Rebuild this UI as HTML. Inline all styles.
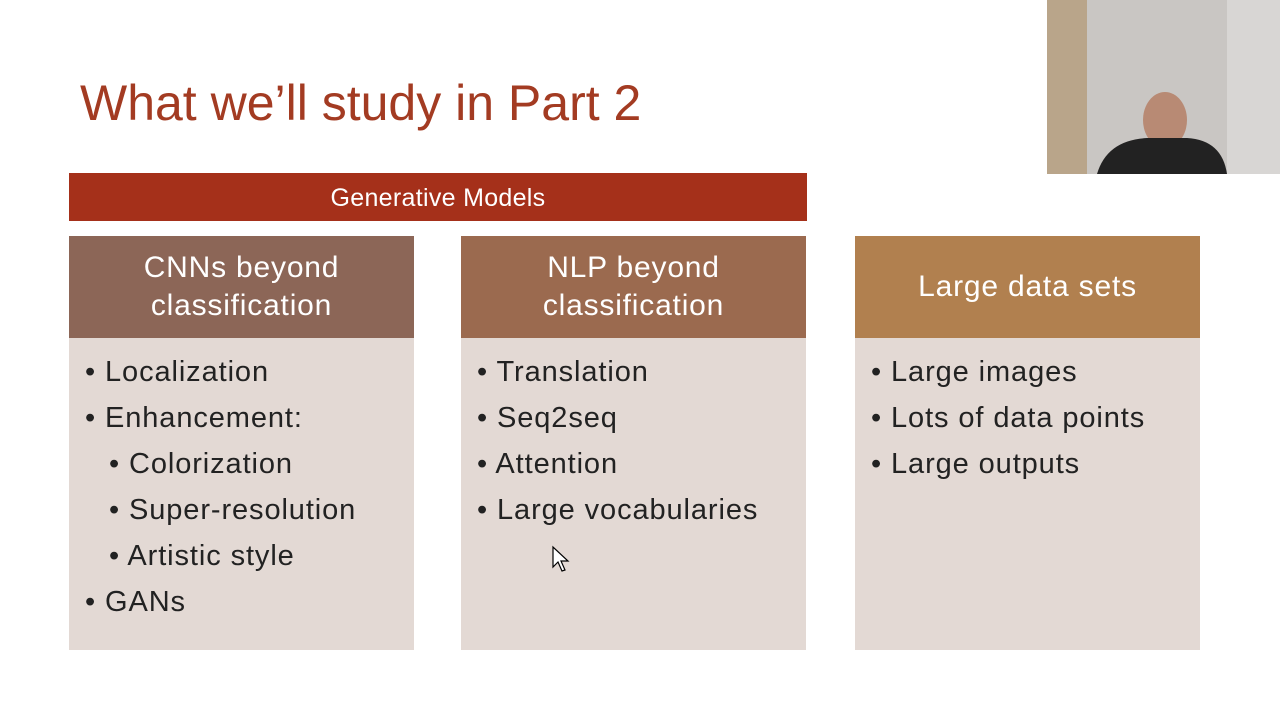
<!DOCTYPE html>
<html><head><meta charset="utf-8"><style>
body{margin:0;width:1280px;height:720px;background:#fff;position:relative;overflow:hidden;font-family:"Liberation Sans",sans-serif}
.t{position:absolute;left:80px;top:74px;font-size:50px;color:#A33B22;letter-spacing:0px}
.bar{position:absolute;left:69px;top:173px;width:738px;height:48px;background:#A5301A;color:#fff;font-size:25px;text-align:center;line-height:50px;letter-spacing:0.3px}
.h{position:absolute;top:236px;height:102px;width:345px;color:#fff;font-size:30px;text-align:center;display:flex;align-items:center;justify-content:center;line-height:38px;letter-spacing:0.8px}
.b{position:absolute;top:338px;height:312px;width:345px;background:#E3D9D4;font-size:29px;color:#222;letter-spacing:0.9px}
.b div{position:absolute;white-space:nowrap}
</style></head><body>
<div class="t">What we’ll study in Part 2</div>
<div class="bar">Generative Models</div>
<div class="h" style="left:69px;background:#8C6657">CNNs beyond<br>classification</div>
<div class="h" style="left:461px;background:#9B6A4F">NLP beyond<br>classification</div>
<div class="h" style="left:855px;background:#B1804F">Large data sets</div>
<div class="b" style="left:69px">
<div style="left:16px;top:18px">• Localization</div>
<div style="left:16px;top:64px">• Enhancement:</div>
<div style="left:40px;top:110px">• Colorization</div>
<div style="left:40px;top:156px">• Super-resolution</div>
<div style="left:40px;top:202px">• Artistic style</div>
<div style="left:16px;top:248px">• GANs</div>
</div>
<div class="b" style="left:461px">
<div style="left:16px;top:18px">• Translation</div>
<div style="left:16px;top:64px">• Seq2seq</div>
<div style="left:16px;top:110px">• Attention</div>
<div style="left:16px;top:156px">• Large vocabularies</div>
</div>
<div class="b" style="left:855px">
<div style="left:16px;top:18px">• Large images</div>
<div style="left:16px;top:64px">• Lots of data points</div>
<div style="left:16px;top:110px">• Large outputs</div>
</div>
<svg style="position:absolute;left:1047px;top:0" width="233" height="174">
<rect width="233" height="174" fill="#C9C6C3"/>
<rect x="0" y="0" width="40" height="174" fill="#B9A58A"/>
<rect x="180" y="0" width="53" height="174" fill="#D8D6D4"/>
<ellipse cx="118" cy="120" rx="22" ry="28" fill="#B88A74"/>
<path d="M50 174 Q60 140 100 138 L140 138 Q175 140 180 174 Z" fill="#222"/>
</svg>
<svg style="position:absolute;left:551px;top:545px" width="20" height="28"><path d="M2 2 L2 22 L7 17 L11 26 L14 25 L10 16 L17 16 Z" fill="#fff" stroke="#000" stroke-width="1.2"/></svg>
</body></html>
